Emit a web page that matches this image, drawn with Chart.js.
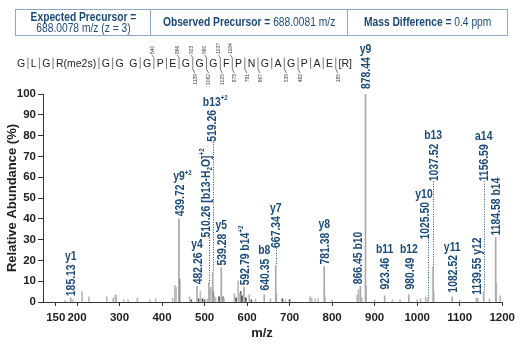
<!DOCTYPE html>
<html>
<head>
<meta charset="utf-8">
<script src="https://cdn.jsdelivr.net/npm/chart.js@4.4.1/dist/chart.umd.min.js"></script>
<style>
  body { margin: 0; background: #fff; }
  #wrap { position: relative; width: 520px; height: 350px; }
  #head {
    position: absolute; left: 15px; top: 9px; width: 491px; height: 25px;
    border: 1px solid #8ea7c6; display: flex;
    font-family: "Liberation Sans", Arial, sans-serif;
    color: #1b4a7a; font-size: 12.5px;
  }
  .cell { display: flex; align-items: center; justify-content: center; text-align: center; line-height: 11px; }
  .cell + .cell { border-left: 1px solid #8ea7c6; }
  .cell div { transform: scaleX(0.82); white-space: nowrap; }
  .cell b { font-weight: bold; }
  #spec { position: absolute; left: 0; top: 0; }
</style>
</head>
<body>
<div id="wrap">
  <canvas id="spec" width="520" height="350"></canvas>
  <div id="head">
    <div class="cell" style="width:135px"><div><b>Expected Precursor =</b><br>688.0078 m/z (z = 3)</div></div>
    <div class="cell" style="width:196px"><div><b>Observed Precursor =</b> 688.0081 m/z</div></div>
    <div class="cell" style="width:160px"><div><b>Mass Difference =</b> 0.4 ppm</div></div>
  </div>
</div>
<script>
// labelled fragment ions
const ionMz = [185.13, 439.72, 482.26, 510.26, 519.26, 539.28, 592.79, 640.35, 667.34, 781.38,
               866.45, 878.44, 923.46, 980.49, 1025.50, 1037.52, 1082.52, 1139.55, 1156.59, 1184.58];
const ionInt = [2, 40, 7.5, 9.5, 14.5, 16.5, 7, 3.5, 17.5, 17,
                7.5, 100, 3, 3.5, 1.5, 17, 2.5, 2, 5, 31];
const ionNames = ['y1', 'y9{^+2}', 'y4', '[b13-H{_2}O]{^+2}', 'b13{^+2}', 'y5', 'b14{^+2}', 'b8', 'y7', 'y8',
                  'b10', 'y9', 'b11', 'b12', 'y10', 'b13', 'y11', 'y12', 'a14', 'b14'];

// unlabelled peaks (light grey)
const otherMz = [172, 190, 212, 228, 270, 285, 290, 292, 310, 320, 342, 372, 385, 425, 430, 433,
                 465, 490, 507, 513, 515, 523, 526, 541, 546, 570, 579, 583, 605, 620, 655, 669,
                 690, 748, 752, 760, 767, 783, 800, 859, 862, 870, 880, 900, 942, 960, 1000, 1008,
                 1020, 1039, 1100, 1143, 1170, 1186, 1195];
const otherInt = [0.8, 1, 5, 2.5, 2.5, 2, 3.5, 3.2, 1, 1, 2, 1, 1.5, 1.8, 8, 7,
                  2.5, 5, 1.5, 6, 7, 3, 2, 3, 1.5, 4, 10, 4, 3.5, 1.5, 1.5, 4,
                  1, 2.5, 2, 1.5, 1.5, 3, 1, 3.5, 6, 2, 8, 1, 1, 1, 1, 1.5,
                  2.5, 5, 1, 1.5, 1.5, 9, 3];

// unlabelled peaks (dark)
const darkMz = [441, 469, 486, 495, 500, 520, 534, 543, 574, 585, 588, 597, 610, 683, 700];
const darkInt = [11, 1, 1.5, 1.5, 1, 5, 2.5, 2.5, 2, 5, 3, 2, 1, 1.5, 1.2];

const xTickValues = [150, 200, 300, 400, 500, 600, 700, 800, 900, 1000, 1100, 1200];

// peptide sequence with fragment sites
const residues = ['G', 'L', 'G', 'R(me2s)', 'G', 'G', 'G', 'G', 'P', 'E', 'G', 'G', 'G', 'F',
                  'P', 'N', 'G', 'A', 'G', 'P', 'A', 'E', '[R]'];
const bSites = [8, 10, 11, 12, 13, 14];
const bSiteLabels = ['640', '866', '923', '980', '1037', '1184'];
const ySites = [11, 12, 13, 14, 15, 16, 18, 19, 22];
const ySiteLabels = ['1139', '1082', '1025', '878', '781', '667', '539', '482', '185'];

// where each ion label sits (not data)
const ionLabelLayout = [
  { kind: 'stack', base: 2.8 },
  { kind: 'stack', base: 41.2 },
  { kind: 'stack', base: 8.5 },
  { kind: 'inline', base: 31, dx: -4, lead: true },
  { kind: 'stack', base: 77, dx: -1, lead: true },
  { kind: 'stack', base: 17.5 },
  { kind: 'inline', base: 8 },
  { kind: 'stack', base: 5.5 },
  { kind: 'stack', base: 26, lead: true },
  { kind: 'stack', base: 18 },
  { kind: 'inline', base: 8.5, dx: -3 },
  { kind: 'stack', base: 102.4 },
  { kind: 'stack', base: 6 },
  { kind: 'stack', base: 6 },
  { kind: 'stack', base: 30, dx: -4, lead: true },
  { kind: 'stack', base: 58, lead: true },
  { kind: 'stack', base: 4.5 },
  { kind: 'inline', base: 3.5 },
  { kind: 'stack', base: 58, lead: true },
  { kind: 'inline', base: 32 }
];

const NAVY = '#1b4a7a';
const PLAIN = '"Liberation Sans", Arial, sans-serif';
const LBL = 13;
const COND = 0.8;   // squeeze text horizontally, like a condensed face

function parseRich(str) {
  const parts = [];
  const re = /\{([_^])([^}]*)\}/g;
  let last = 0, m;
  while ((m = re.exec(str))) {
    if (m.index > last) parts.push({ t: str.slice(last, m.index), k: '' });
    parts.push({ t: m[2], k: m[1] });
    last = re.lastIndex;
  }
  if (last < str.length) parts.push({ t: str.slice(last), k: '' });
  return parts;
}

function richWidth(ctx, str, size, onlyBase) {
  let w = 0;
  parseRich(str).forEach(p => {
    if (onlyBase && p.k === '^') return;
    ctx.font = 'bold ' + (p.k ? size * 0.6 : size) + 'px ' + PLAIN;
    w += ctx.measureText(p.t).width * COND;
  });
  return w;
}

function drawRich(ctx, str, x, y, size) {
  parseRich(str).forEach(p => {
    const s = p.k ? size * 0.6 : size;
    ctx.font = 'bold ' + s + 'px ' + PLAIN;
    const off = p.k === '^' ? -size * 0.42 : (p.k === '_' ? size * 0.18 : 0);
    ctx.save();
    ctx.translate(x, y + off);
    ctx.scale(COND, 1);
    ctx.fillText(p.t, 0, 0);
    ctx.restore();
    x += ctx.measureText(p.t).width * COND;
  });
  return x;
}

const ionLabelPlugin = {
  id: 'ionLabels',
  afterDatasetsDraw(chart) {
    const ctx = chart.ctx;
    const xs = chart.scales.x, ys = chart.scales.y;
    ctx.save();
    ctx.fillStyle = NAVY;
    ctx.strokeStyle = NAVY;
    ctx.textBaseline = 'alphabetic';
    ctx.textAlign = 'left';
    ionMz.forEach((mz, i) => {
      const lay = ionLabelLayout[i];
      const px = xs.getPixelForValue(mz);
      const tx = px + (lay.dx || 0);
      const yb = ys.getPixelForValue(lay.base);
      const num = mz.toFixed(2);
      if (lay.lead) {
        ctx.save();
        ctx.lineWidth = 1;
        ctx.setLineDash([1, 1.5]);
        ctx.beginPath();
        ctx.moveTo(Math.round(px) + 0.5, yb);
        ctx.lineTo(Math.round(px) + 0.5, ys.getPixelForValue(ionInt[i]));
        ctx.stroke();
        ctx.restore();
      }
      const text = lay.kind === 'inline' ? num + ' ' + ionNames[i] : num;
      ctx.save();
      ctx.translate(tx, yb);
      ctx.rotate(-Math.PI / 2);
      const end = drawRich(ctx, text, 0, LBL * 0.36, LBL);
      ctx.restore();
      if (lay.kind === 'stack') {
        const w = richWidth(ctx, ionNames[i], LBL, true);
        drawRich(ctx, ionNames[i], tx - w / 2, yb - end - 4.5, LBL);
      }
    });
    ctx.restore();
  }
};

const sequencePlugin = {
  id: 'sequence',
  afterDraw(chart) {
    const ctx = chart.ctx;
    const left = 17, right = 352, baseY = 66.5;
    ctx.save();
    ctx.font = '10.5px ' + PLAIN;
    ctx.fillStyle = '#222';
    ctx.textBaseline = 'alphabetic';
    const widths = residues.map(r => ctx.measureText(r).width);
    const total = widths.reduce((a, b) => a + b, 0);
    const gap = (right - left - total) / (residues.length - 1);
    const sites = [];
    let x = left;
    residues.forEach((r, i) => {
      ctx.fillText(r, x, baseY);
      x += widths[i];
      if (i < residues.length - 1) { sites.push(x + gap / 2); x += gap; }
    });
    ctx.strokeStyle = '#555';
    ctx.lineWidth = 0.8;
    sites.forEach((sx, i) => {
      if (i === 5) return; // no break drawn between residues 6 and 7
      ctx.beginPath();
      ctx.moveTo(sx, 57.5);
      ctx.lineTo(sx, 69);
      ctx.stroke();
    });
    ctx.font = '5px ' + PLAIN;
    ctx.fillStyle = '#444';
    bSites.forEach((s, i) => {
      const sx = sites[s - 1];
      ctx.beginPath();
      ctx.moveTo(sx, 57.5);
      ctx.lineTo(sx - 2, 55);
      ctx.stroke();
      ctx.save();
      ctx.translate(sx - 2 + 1.8, 54);
      ctx.rotate(-Math.PI / 2);
      ctx.fillText(bSiteLabels[i], 0, 0);
      ctx.restore();
    });
    ySites.forEach((s, i) => {
      const sx = sites[s - 1];
      ctx.beginPath();
      ctx.moveTo(sx, 69);
      ctx.lineTo(sx + 2, 73);
      ctx.stroke();
      const w = ctx.measureText(ySiteLabels[i]).width;
      ctx.save();
      ctx.translate(sx + 2 + 1.8, 74 + w);
      ctx.rotate(-Math.PI / 2);
      ctx.fillText(ySiteLabels[i], 0, 0);
      ctx.restore();
    });
    // x axis title
    ctx.font = 'bold 13px ' + PLAIN;
    ctx.fillStyle = '#222';
    ctx.textAlign = 'center';
    ctx.textBaseline = 'middle';
    ctx.fillText('m/z', 262, 333);
    ctx.restore();
  }
};

const tickFont = { family: PLAIN, size: 11.5, weight: 'bold' };

new Chart(document.getElementById('spec').getContext('2d'), {
  type: 'bar',
  data: {
    datasets: [
      { label: 'ions', data: ionMz.map((m, i) => ({ x: m, y: ionInt[i] })), backgroundColor: '#a9a9a9' },
      { label: 'other', data: otherMz.map((m, i) => ({ x: m, y: otherInt[i] })), backgroundColor: '#b8b8b8' },
      { label: 'dark', data: darkMz.map((m, i) => ({ x: m, y: darkInt[i] })), backgroundColor: '#4d4d4d' }
    ]
  },
  options: {
    responsive: false,
    animation: false,
    datasets: { bar: { grouped: false, barThickness: 1 } },
    layout: { padding: { top: 94, right: 15, left: 0, bottom: 0 } },
    plugins: { legend: { display: false }, tooltip: { enabled: false } },
    scales: {
      x: {
        type: 'linear',
        min: 120,
        max: 1200,
        offset: false,
        afterBuildTicks: s => { s.ticks = xTickValues.map(v => ({ value: v })); },
        afterFit: s => { s.height = 48; },
        grid: { drawOnChartArea: false, offset: false, tickLength: 4, color: '#333' },
        border: { color: '#333' },
        ticks: { font: tickFont, color: '#222', padding: 5, maxRotation: 0, autoSkip: false,
                 callback: v => String(v) }
      },
      y: {
        min: 0,
        max: 100,
        afterFit: s => { s.width = 43; },
        grid: { drawOnChartArea: false, tickLength: 5, color: '#333' },
        border: { color: '#333' },
        ticks: { stepSize: 10, font: tickFont, color: '#222', padding: 2 },
        title: {
          display: true,
          text: 'Relative Abundance (%)',
          font: { family: PLAIN, size: 13, weight: 'bold' },
          color: '#222',
          padding: { top: 5, bottom: 0 }
        }
      }
    }
  },
  plugins: [ionLabelPlugin, sequencePlugin]
});
</script>
</body>
</html>
